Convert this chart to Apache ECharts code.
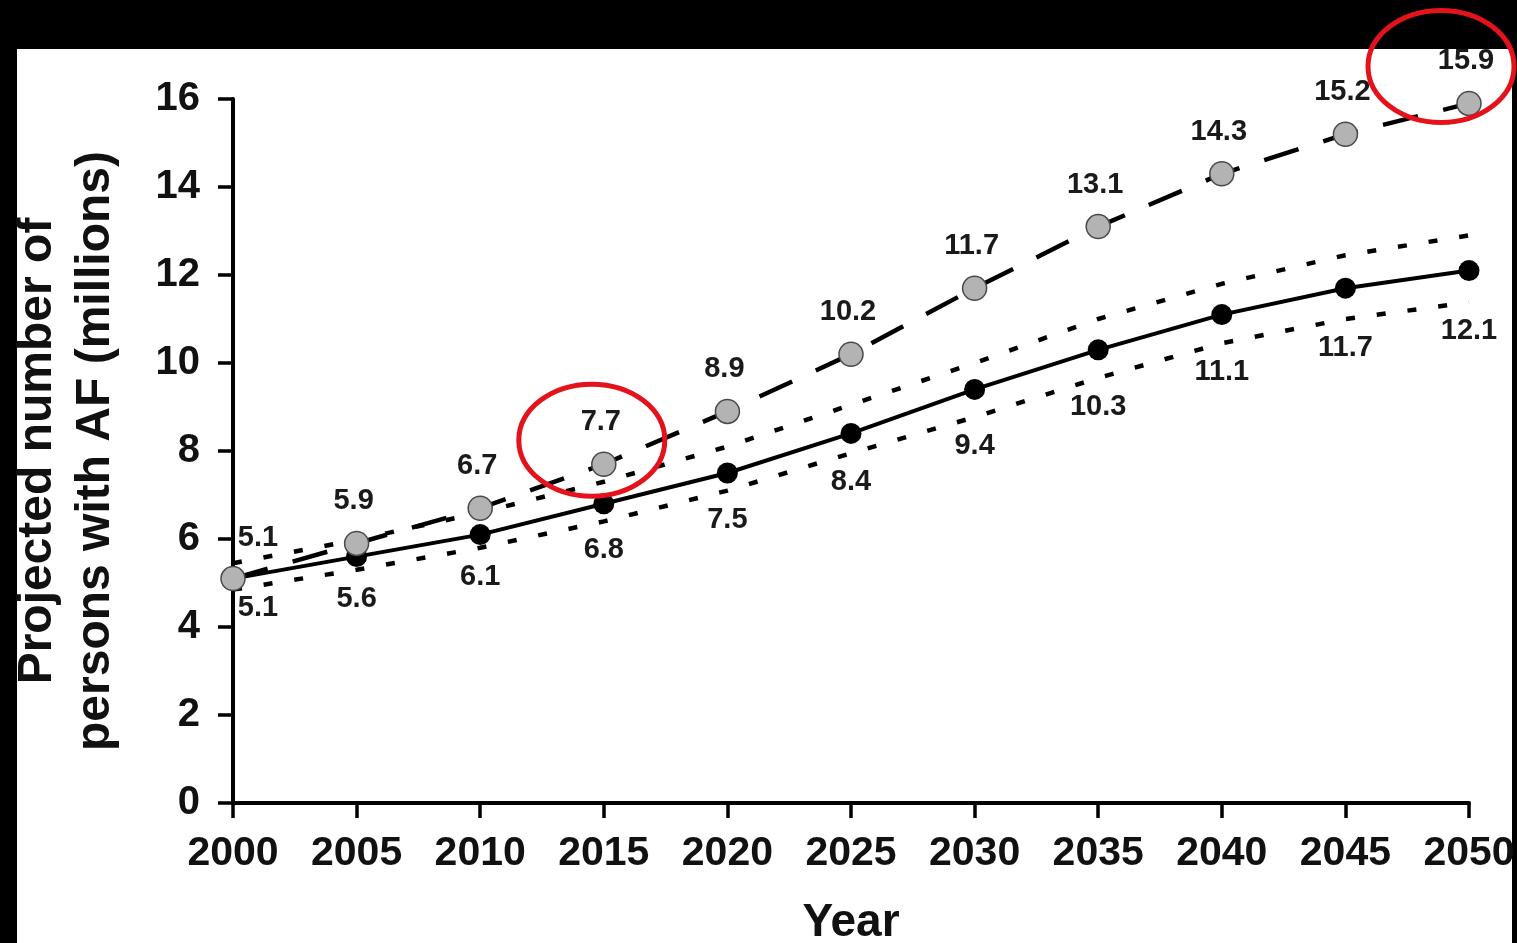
<!DOCTYPE html>
<html>
<head>
<meta charset="utf-8">
<script src="https://cdn.jsdelivr.net/npm/echarts@6/dist/echarts.min.js"></script>
<style>
  html, body { margin: 0; padding: 0; background: #000; overflow: hidden; }
  #chart { width: 1517px; height: 943px; }
</style>
</head>
<body>
<div id="chart"></div>
<script>
// Projected number of persons with atrial fibrillation, 2000-2050 (millions)
const years = ['2000', '2005', '2010', '2015', '2020', '2025', '2030', '2035', '2040', '2045', '2050'];
// Scenario with continued increase in incidence (grey circles, dashed)
const projectedHigh = [5.1, 5.9, 6.7, 7.7, 8.9, 10.2, 11.7, 13.1, 14.3, 15.2, 15.9];
// Base projection (black circles, solid)
const projected = [5.1, 5.6, 6.1, 6.8, 7.5, 8.4, 9.4, 10.3, 11.1, 11.7, 12.1];
// Dotted bounds around the base projection
const upperBound = [5.45, 5.98, 6.6, 7.3, 8.1, 9.05, 10.0, 11.0, 11.8, 12.45, 12.9];
const lowerBound = [4.85, 5.3, 5.8, 6.4, 7.1, 7.95, 8.77, 9.66, 10.45, 11.0, 11.38];
const yTicks = { min: 0, max: 16, interval: 2 };

const FONT = "'Liberation Sans', Arial, Helvetica, sans-serif";
const chart = echarts.init(document.getElementById('chart'), null, { renderer: 'canvas' });

const labelBase = {
  show: true,
  fontFamily: FONT,
  fontWeight: 'bold',
  fontSize: 29,
  color: '#1a1a1a',
  position: 'inside'
};

const boundStyle = {
  type: 'line',
  symbol: 'none',
  silent: true,
  z: 1,
  lineStyle: { color: '#000', width: 4.5, type: [9, 22] }
};

function buildOption(highOffsets, baseOffsets, circles) {
  return {
    backgroundColor: '#000',
    animation: false,
    grid: { left: 233, right: 48, top: 99, bottom: 140, containLabel: false, outerBoundsMode: 'none' },
    xAxis: {
      type: 'category',
      data: years,
      boundaryGap: false,
      name: 'Year',
      nameLocation: 'middle',
      nameGap: 97,
      nameTextStyle: { fontFamily: FONT, fontWeight: 'bold', fontSize: 46, color: '#111' },
      axisLine: { lineStyle: { color: '#000', width: 4 } },
      axisTick: { show: true, length: 15, lineStyle: { color: '#000', width: 3.5 } },
      axisLabel: { fontFamily: FONT, fontWeight: 'bold', fontSize: 41, color: '#111', margin: 30 },
      splitLine: { show: false }
    },
    yAxis: {
      type: 'value',
      min: yTicks.min,
      max: yTicks.max,
      interval: yTicks.interval,
      name: 'Projected number of\npersons with AF (millions)',
      nameLocation: 'middle',
      nameRotate: 90,
      nameGap: 108,
      nameTextStyle: { fontFamily: FONT, fontWeight: 'bold', fontSize: 48, lineHeight: 58, color: '#111' },
      axisLine: { show: true, lineStyle: { color: '#000', width: 4 } },
      axisTick: { show: true, length: 15, lineStyle: { color: '#000', width: 3.5 } },
      axisLabel: { fontFamily: FONT, fontWeight: 'bold', fontSize: 40, color: '#111', margin: 33 },
      splitLine: { show: false }
    },
    series: [
      Object.assign({ name: 'Upper bound', data: upperBound }, boundStyle),
      Object.assign({ name: 'Lower bound', data: lowerBound }, boundStyle),
      {
        name: 'Projected',
        type: 'line',
        data: projected.map((v, i) => ({
          value: v,
          label: Object.assign({}, labelBase, { offset: baseOffsets[i] })
        })),
        symbol: 'circle',
        symbolSize: 21,
        z: 3,
        itemStyle: { color: '#000', borderColor: '#000', borderWidth: 0 },
        lineStyle: { color: '#000', width: 4 },
        label: labelBase
      },
      {
        name: 'Projected (increasing incidence)',
        type: 'line',
        data: projectedHigh.map((v, i) => ({
          value: v,
          label: Object.assign({}, labelBase, { offset: highOffsets[i] })
        })),
        symbol: 'circle',
        symbolSize: 24,
        z: 4,
        itemStyle: { color: '#b3b3b3', borderColor: '#4a4a4a', borderWidth: 1.5 },
        lineStyle: { color: '#000', width: 4.5, type: [36, 26] },
        label: labelBase
      }
    ],
    graphic: [
      // white panel the chart sits on
      { type: 'rect', z: -100, silent: true,
        shape: { x: 17, y: 49, width: 1495, height: 900 },
        style: { fill: '#fff' } }
    ].concat(circles)
  };
}

// first pass: default label offsets
const highOffsets = years.map((_, i) => i === 0 ? [25, -41] : [-3, -42]);
let baseOffsets = years.map((_, i) => i === 0 ? [25, 29] : [0, 44]);
chart.setOption(buildOption(highOffsets, baseOffsets, []));

// base labels sit just below the lower dotted bound
const lowGap = 29;
baseOffsets = projected.map((v, i) => {
  if (i === 0) return [25, 29];
  const py = chart.convertToPixel({ yAxisIndex: 0 }, v);
  const ly = chart.convertToPixel({ yAxisIndex: 0 }, lowerBound[i]);
  return [0, ly + lowGap - py];
});

// red highlight rings around the 2015 and 2050 values of the high scenario
function ring(idx, dx, dy) {
  const p = chart.convertToPixel({ xAxisIndex: 0, yAxisIndex: 0 }, [idx, projectedHigh[idx]]);
  return {
    type: 'ellipse', z: 200, silent: true,
    shape: { cx: p[0] + dx, cy: p[1] + dy, rx: 73, ry: 56 },
    style: { fill: null, stroke: '#e3121b', lineWidth: 5 }
  };
}
const circles = [ring(3, -12, -24), ring(10, -28, -37)];

chart.setOption(buildOption(highOffsets, baseOffsets, circles), { notMerge: true });
</script>
</body>
</html>
